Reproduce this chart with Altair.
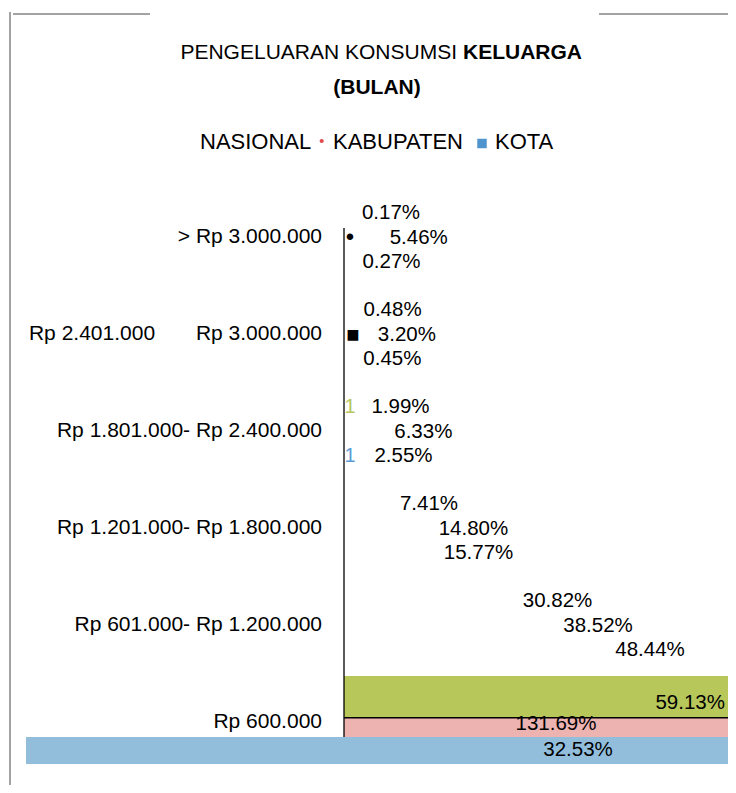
import altair as alt
import pandas as pd

# ---------------- data ----------------
categories = [
    "> Rp 3.000.000",
    "Rp 2.401.000" + "\u00a0" * 7 + "Rp 3.000.000",
    "Rp 1.801.000- Rp 2.400.000",
    "Rp 1.201.000- Rp 1.800.000",
    "Rp 601.000- Rp 1.200.000",
    "Rp 600.000",
]
series = ["NASIONAL", "KABUPATEN", "KOTA"]
nasional = [0.17, 0.48, 1.99, 7.41, 30.82, 59.13]
kabupaten = [5.46, 3.20, 6.33, 14.80, 38.52, 131.69]
kota = [0.27, 0.45, 2.55, 15.77, 48.44, 32.53]
bar_colors = ["#B8C75A", "#ECB3B1", "#92BEDC"]

title_normal = "PENGELUARAN KONSUMSI"
title_bold = "KELUARGA"
subtitle = "(BULAN)"

# stray glyphs visible in the original picture (category index, series, glyph, colour)
stray_cat = [0, 1, 2, 2]
stray_series = ["KABUPATEN", "KABUPATEN", "NASIONAL", "KOTA"]
stray_glyph = ["\u2022", "\u25A0", "1", "1"]
stray_color = ["#000000", "#000000", "#B5C65C", "#5B9BD5"]

rows = []
for i, c in enumerate(categories):
    for s, vals in zip(series, [nasional, kabupaten, kota]):
        rows.append({"category": c, "series": s, "value": vals[i]})
df = pd.DataFrame(rows)

df_stray = pd.DataFrame({
    "category": [categories[i] for i in stray_cat],
    "series": stray_series,
    "glyph": stray_glyph,
    "color": stray_color,
})

FONT = "Liberation Sans"
last_cat = categories[-1]

y_scale = alt.Scale(domain=categories, range=[180.5, 762.5], paddingInner=0, paddingOuter=0)
bar_scale = alt.Scale(domain=[0, 30], range=[336, 720], clamp=True)
wide_bar_scale = alt.Scale(domain=[0, 30], range=[18, 720], clamp=True)
label_scale = alt.Scale(domain=[0, 100], range=[353, 878])

Y = alt.Y("category:N", sort=categories, scale=y_scale, axis=None)
row_dy = {"NASIONAL": -24.5, "KABUPATEN": 0.5, "KOTA": 24.5}

base = alt.Chart(df).transform_calculate(
    label="format(datum.value, '.2f') + '%'"
)

layers = []

# frame lines
frame = pd.DataFrame({"k": [0]})
layers.append(alt.Chart(frame).mark_rule(color="#A3A3A3", strokeWidth=2).encode(
    x=alt.value(2), y=alt.value(4), y2=alt.value(777)))
layers.append(alt.Chart(frame).mark_rule(color="#A3A3A3", strokeWidth=2).encode(
    x=alt.value(5), x2=alt.value(142), y=alt.value(6)))
layers.append(alt.Chart(frame).mark_rule(color="#A3A3A3", strokeWidth=2).encode(
    x=alt.value(591), x2=alt.value(720), y=alt.value(6)))

# title
layers.append(alt.Chart(pd.DataFrame({"t": [title_normal]})).mark_text(
    font=FONT, fontSize=21, align="right", baseline="middle", color="#000000"
).encode(x=alt.value(449), y=alt.value(45), text="t:N"))
layers.append(alt.Chart(pd.DataFrame({"t": [title_bold]})).mark_text(
    font=FONT, fontSize=21, fontWeight="bold", align="left", baseline="middle", color="#000000"
).encode(x=alt.value(455), y=alt.value(45), text="t:N"))
layers.append(alt.Chart(pd.DataFrame({"t": [subtitle]})).mark_text(
    font=FONT, fontSize=21, fontWeight="bold", align="center", baseline="middle", color="#000000"
).encode(x=alt.value(369), y=alt.value(80), text="t:N"))

# legend
legend_x = {"NASIONAL": 192, "KABUPATEN": 325, "KOTA": 487}
for s in series:
    layers.append(alt.Chart(pd.DataFrame({"t": [s]})).mark_text(
        font=FONT, fontSize=22, align="left", baseline="middle", color="#000000"
    ).encode(x=alt.value(legend_x[s]), y=alt.value(134), text="t:N"))
layers.append(alt.Chart(frame).mark_point(shape="circle", filled=True, size=18, opacity=1,
                                          color="#E04B4B").encode(
    x=alt.value(313.7), y=alt.value(133)))
layers.append(alt.Chart(frame).mark_point(shape="square", filled=True, size=90, opacity=1,
                                          color="#4F94CD").encode(
    x=alt.value(474), y=alt.value(135.5)))

# bars (only the last category is visible in the original)
bar_specs = [("NASIONAL", 41, -25.5, bar_colors[0]),
             ("KABUPATEN", 19, 5.5, bar_colors[1])]
for s, h, off, col in bar_specs:
    layers.append(base.transform_filter(
        (alt.datum.category == last_cat) & (alt.datum.series == s)
    ).mark_bar(height=h, yOffset=off, color=col).encode(
        x=alt.X("value:Q", scale=bar_scale, axis=None), y=Y))
# black edge between green and pink bars
layers.append(base.transform_filter(
    (alt.datum.category == last_cat) & (alt.datum.series == "KABUPATEN")
).mark_bar(height=1.6, yOffset=-4.3, color="#000000").encode(
    x=alt.X("value:Q", scale=bar_scale, axis=None), y=Y))
layers.append(base.transform_filter(
    (alt.datum.category == last_cat) & (alt.datum.series == "KOTA")
).mark_bar(height=27, yOffset=28.5, color=bar_colors[2]).encode(
    x=alt.X("value:Q", scale=wide_bar_scale, axis=None), y=Y))

# vertical axis line
layers.append(alt.Chart(frame).mark_rule(color="#000000", strokeWidth=1.3).encode(
    x=alt.value(336), y=alt.value(220), y2=alt.value(729)))

# category labels
cat_df = pd.DataFrame({"category": categories})
layers.append(alt.Chart(cat_df).mark_text(
    font=FONT, fontSize=21, align="right", baseline="middle", color="#000000"
).encode(x=alt.value(314), y=Y, text="category:N"))

# value labels (rows other than the last)
for s in series:
    layers.append(base.transform_filter(
        (alt.datum.category != last_cat) & (alt.datum.series == s)
    ).mark_text(font=FONT, fontSize=20.5, align="left", baseline="middle",
                color="#000000", dy=row_dy[s]).encode(
        x=alt.X("value:Q", scale=label_scale, axis=None), y=Y, text="label:N"))

# value labels of the last row
last_specs = [("NASIONAL", "right", -3, -19), ("KABUPATEN", "center", -172, 2),
              ("KOTA", "center", -150, 28)]
for s, al, dx, dy in last_specs:
    layers.append(base.transform_filter(
        (alt.datum.category == last_cat) & (alt.datum.series == s)
    ).mark_text(font=FONT, fontSize=20.5, align=al, baseline="middle",
                color="#000000", dx=dx, dy=dy).encode(
        x=alt.X("value:Q", scale=bar_scale, axis=None), y=Y, text="label:N"))

# stray glyphs
glyph_size = {"\u2022": 24, "\u25A0": 22, "1": 20}
for s in series:
    sub = df_stray[df_stray["series"] == s]
    for g, fs in glyph_size.items():
        sub2 = sub[sub["glyph"] == g]
        if len(sub2) == 0:
            continue
        layers.append(alt.Chart(sub2).mark_text(
            font=FONT, fontSize=fs, align="center", baseline="middle", dy=row_dy[s]
        ).encode(x=alt.value(342 if g != "\u25A0" else 345), y=Y, text="glyph:N",
                 color=alt.Color("color:N", scale=None)))

chart = alt.layer(*layers).resolve_scale(x="independent").properties(
    width=720, height=777,
    autosize=alt.AutoSizeParams(type="none"),
    padding=0,
).configure_view(stroke=None)

chart.save("out.html", embed_options={"renderer": "svg", "actions": False})
